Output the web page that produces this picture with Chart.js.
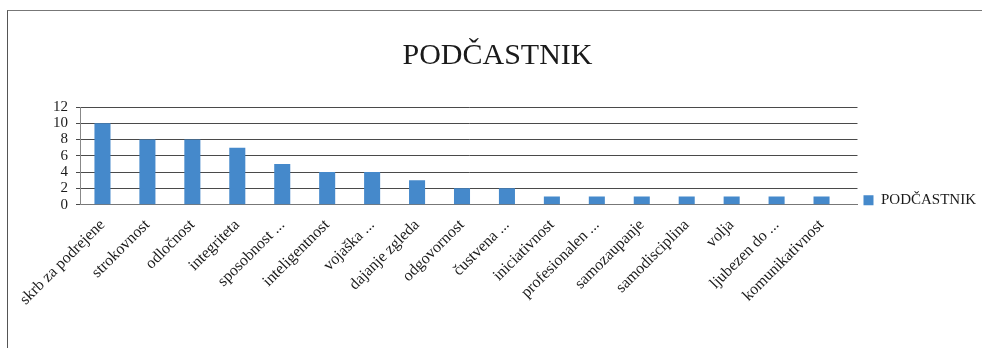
<!DOCTYPE html>
<html>
  <head>
    <meta charset="utf-8" />
    <title>PODČASTNIK</title>
    <style>
      html, body { margin: 0; padding: 0; background: #fff; overflow: hidden; }
      #okvir {
        position: absolute; left: 7px; top: 10px; width: 990px; height: 400px;
        border-left: 1px solid #555; border-top: 1px solid #777;
      }
      #graf { position: absolute; left: 1px; top: 1px; }
    </style>
  </head>
  <body>
    <div id="okvir">
      <canvas id="graf" width="977" height="337"></canvas>
    </div>

    <script src="https://cdn.jsdelivr.net/npm/chart.js"></script>
    <script>
      // Podatki grafa
      var kategorije = [
        "skrb za podrejene", "strokovnost", "odločnost", "integriteta",
        "sposobnost ...", "inteligentnost", "vojaška ...", "dajanje zgleda",
        "odgovornost", "čustvena ...", "iniciativnost", "profesionalen ...",
        "samozaupanje", "samodisciplina", "volja", "ljubezen do ...",
        "komunikativnost"
      ];
      var vrednosti = [10, 8, 8, 7, 5, 4, 4, 3, 2, 2, 1, 1, 1, 1, 1, 1, 1];
      var naslov = "PODČASTNIK";
      var yMin = 0, yMax = 12, yKorak = 2;

      var pisava = "'Liberation Serif', 'Times New Roman', serif";

      // legenda v Excelu stoji nizje, skoraj ob osi x
      var zamikLegende = {
        id: "zamikLegende",
        afterLayout: function (chart) {
          chart.legend.top += 9;
          chart.legend.bottom += 9;
        },
      };

      new Chart(document.getElementById("graf"), {
        type: "bar",
        data: {
          labels: kategorije,
          datasets: [
            {
              label: naslov,
              data: vrednosti,
              backgroundColor: "#4589cb",
              barPercentage: 0.7,
              categoryPercentage: 0.51,
            },
          ],
        },
        plugins: [zamikLegende],
        options: {
          responsive: false,
          animation: false,
          layout: { padding: { left: 0, right: 0, top: 0, bottom: 37 } },
          plugins: {
            title: {
              display: true,
              text: naslov,
              color: "#1a1a1a",
              font: { family: pisava, size: 30, weight: "normal" },
              padding: { top: 26, bottom: 33 },
            },
            legend: {
              position: "right",
              align: "end",
              fullSize: false,
              labels: {
                boxWidth: 10,
                boxHeight: 10,
                color: "#1a1a1a",
                font: { family: pisava, size: 15 },
                padding: 6,
              },
            },
            tooltip: { enabled: false },
          },
          scales: {
            x: {
              grid: { display: false },
              border: { color: "#777" },
              // v Excelu os sega malo dlje od zadnje kategorije
              afterBuildTicks: function (os) {
                os._valueRange = kategorije.length + 0.3;
              },
              ticks: {
                color: "#1a1a1a",
                font: { family: pisava, size: 16 },
                minRotation: 45,
                maxRotation: 45,
                autoSkip: false,
              },
            },
            y: {
              min: yMin,
              max: yMax,
              afterFit: function (os) {
                os.width = 71;
              },
              ticks: {
                stepSize: yKorak,
                autoSkip: false,
                color: "#1a1a1a",
                font: { family: pisava, size: 15 },
                padding: 8,
              },
              grid: { color: "#4a4a4a", tickLength: 4 },
              border: { color: "#888" },
            },
          },
        },
      });
    </script>
  </body>
</html>
